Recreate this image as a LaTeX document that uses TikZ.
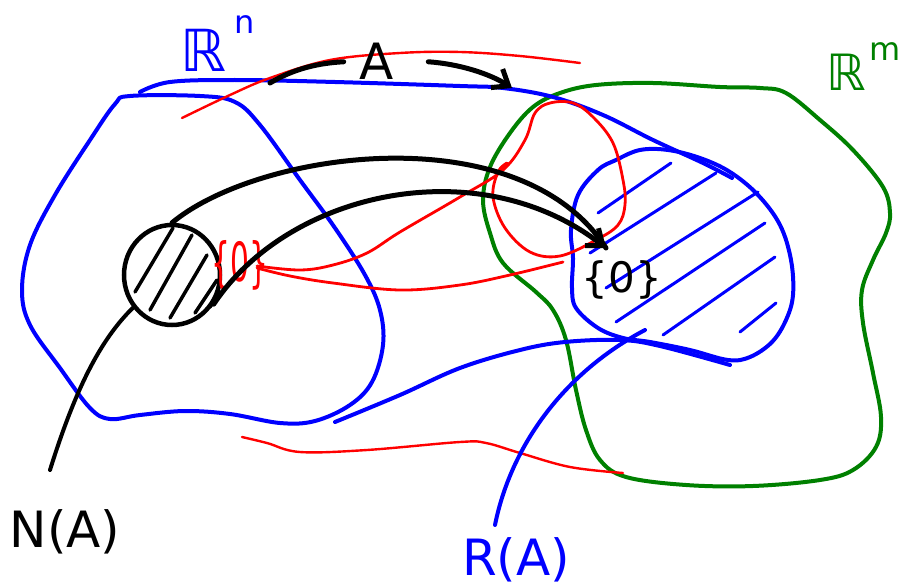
\documentclass[tikz,border=0pt]{standalone}
\usepackage{fontspec}
\setmainfont{DejaVu Sans}
\usetikzlibrary{arrows.meta,shapes.geometric}

\begin{document}
\begin{tikzpicture}[
    x=1pt,y=-1pt,
    pen/.style={line cap=round,line join=round},
    bluepen/.style={pen,draw=blue,line width=4pt},
    redpen/.style={pen,draw=red,line width=2.8pt},
    greenpen/.style={pen,draw=green!50!black,line width=4pt},
    blackpen/.style={pen,draw=black,line width=5pt},
    hatch/.style={pen,line width=3pt},
    lbl/.style={inner sep=0pt,font=\fontsize{50}{54}\selectfont},
    arr/.style={-{Straight Barb[length=14pt,width=22pt]}}
  ]
  \useasboundingbox (0,0) rectangle (913,586);

  % domain R^n
  \draw[bluepen] plot[smooth cycle,tension=0.6] coordinates {
    (130,96) (200,96) (235,102) (260,125) (300,180) (335,228) (365,275)
    (380,310) (383,345) (372,382) (350,405) (315,421) (280,423) (230,414)
    (185,411) (140,415) (110,419) (90,408) (60,368) (30,325) (22,290)
    (30,245) (55,195) (90,140) (115,104)};

  % codomain R^m
  \draw[greenpen] plot[smooth cycle,tension=0.6] coordinates {
    (533,107) (560,93) (596,85) (653,83) (720,87) (760,88) (786,93)
    (820,120) (853,150) (883,187) (890,213) (886,233) (873,260) (862,290)
    (863,323) (873,373) (881,417) (876,447) (853,470) (820,480) (753,486)
    (686,485) (626,477) (600,460) (586,430) (576,390) (566,340) (553,310)
    (536,292) (503,263) (490,233) (483,200) (490,167) (510,133)};

  % range, hatched
  \draw[bluepen] plot[smooth cycle,tension=0.6] coordinates {
    (616,160) (640,150) (668,150) (700,158) (730,172) (758,195) (780,225)
    (791,260) (793,295) (786,320) (772,342) (750,357) (728,360) (690,350)
    (650,342) (623,338) (598,328) (576,308) (572,288) (573,258) (571,230)
    (578,195) (598,170)};
  \draw[hatch,blue] (598,213) -- (671,163);
  \draw[hatch,blue] (590,253) -- (716,173);
  \draw[hatch,blue] (606,288) -- (758,192);
  \draw[hatch,blue] (616,322) -- (765,223);
  \draw[hatch,blue] (663,335) -- (775,257);
  \draw[hatch,blue] (740,332) -- (776,303);

  % outer outline of the image
  \draw[bluepen] plot[smooth,tension=0.6] coordinates {
    (140,92) (170,82) (235,80) (335,82) (460,86) (503,88) (553,97)
    (603,115) (653,140) (703,163) (732,178)};
  \draw[bluepen] plot[smooth,tension=0.6] coordinates {
    (335,422) (400,395) (460,368) (520,350) (565,342) (620,340)
    (660,346) (730,365)};

  % preimage lines
  \draw[redpen,line width=2.4pt] plot[smooth,tension=0.6] coordinates {
    (182,118) (230,95) (270,78) (330,60) (400,53) (460,52) (520,56) (580,63)};
  \draw[redpen] plot[smooth,tension=0.6] coordinates {
    (257,266) (300,270) (333,265) (367,253) (400,232) (460,197) (503,170)
    (525,140) (535,113) (550,103) (573,103) (593,117) (613,143) (623,180)
    (625,205) (618,225) (596,240) (560,256) (530,252) (505,228) (493,197)
    (498,172) (507,163)};
  \draw[redpen] plot[smooth,tension=0.6] coordinates {
    (257,268) (290,276) (333,283) (400,290) (460,285) (510,275) (563,262)};
  \draw[redpen,line width=2.4pt] plot[smooth,tension=0.6] coordinates {
    (242,437) (267,443) (300,452) (367,450) (460,442) (486,443) (520,453)
    (570,467) (623,473)};

  % null space
  \node[draw,ellipse,line width=4.5pt,minimum width=96pt,minimum height=100pt]
    (kern) at (172,275) {};
  \draw[hatch,black,line width=3.5pt] (135,292) -- (173,228);
  \draw[hatch,black,line width=3.5pt] (150,310) -- (192,235);
  \draw[hatch,black,line width=3.5pt] (170,318) -- (207,255);
  \draw[hatch,black,line width=3.5pt] (195,313) -- (217,280);
  \draw[hatch,black,line width=3.5pt] (210,307) -- (220,292);

  % labels
  \node[lbl,anchor=base west,text=blue] (rn) at (180,72)
    {\fontsize{58}{60}\selectfont ℝ\hspace{8pt}\raisebox{38pt}{\fontsize{32}{34}\selectfont n}};
  \node[lbl,anchor=base west,text=green!50!black] (rm) at (826,90)
    {\fontsize{50}{54}\selectfont ℝ\hspace{4pt}\raisebox{30pt}{\fontsize{32}{34}\selectfont m}};
  \node[lbl,anchor=base] (amap) at (377,80) {A};
  \node[lbl,font=\fontsize{42}{46}\selectfont] (zero) at (622,280) {\{0\}};
  \node[lbl,text=red,xscale=0.55,font=\fontsize{54}{58}\selectfont] (zerored) at (240,265) {\{0\}};
  \node[lbl,font=\fontsize{50}{54}\selectfont] (na) at (65,532) {N(A)};
  \node[lbl,text=blue] (ra) at (516,560) {R(A)};

  \coordinate (tip) at (606,248);
  \coordinate (nastart) at (50,470);
  \coordinate (rastart) at (495,525);

  % the map A
  \draw[blackpen] (270,83) .. controls (295,68) and (320,63) .. ([xshift=-16pt]amap.west);
  \draw[blackpen,arr] ([xshift=34pt]amap.east) .. controls (460,64) and (490,74) .. (512,88);

  % kernel goes to zero
  \draw[blackpen] (kern.north) .. controls (260,150) and (520,115) .. (tip);
  \draw[blackpen,arr] (kern.-35) .. controls (290,190) and (480,150) .. (tip);

  % pointers to labels
  \draw[blackpen,line width=4pt] (nastart) .. controls (75,390) and (100,340) .. (kern.-140);
  \draw[bluepen] (rastart) .. controls (510,450) and (560,375) .. (645,330);
\end{tikzpicture}
\end{document}
